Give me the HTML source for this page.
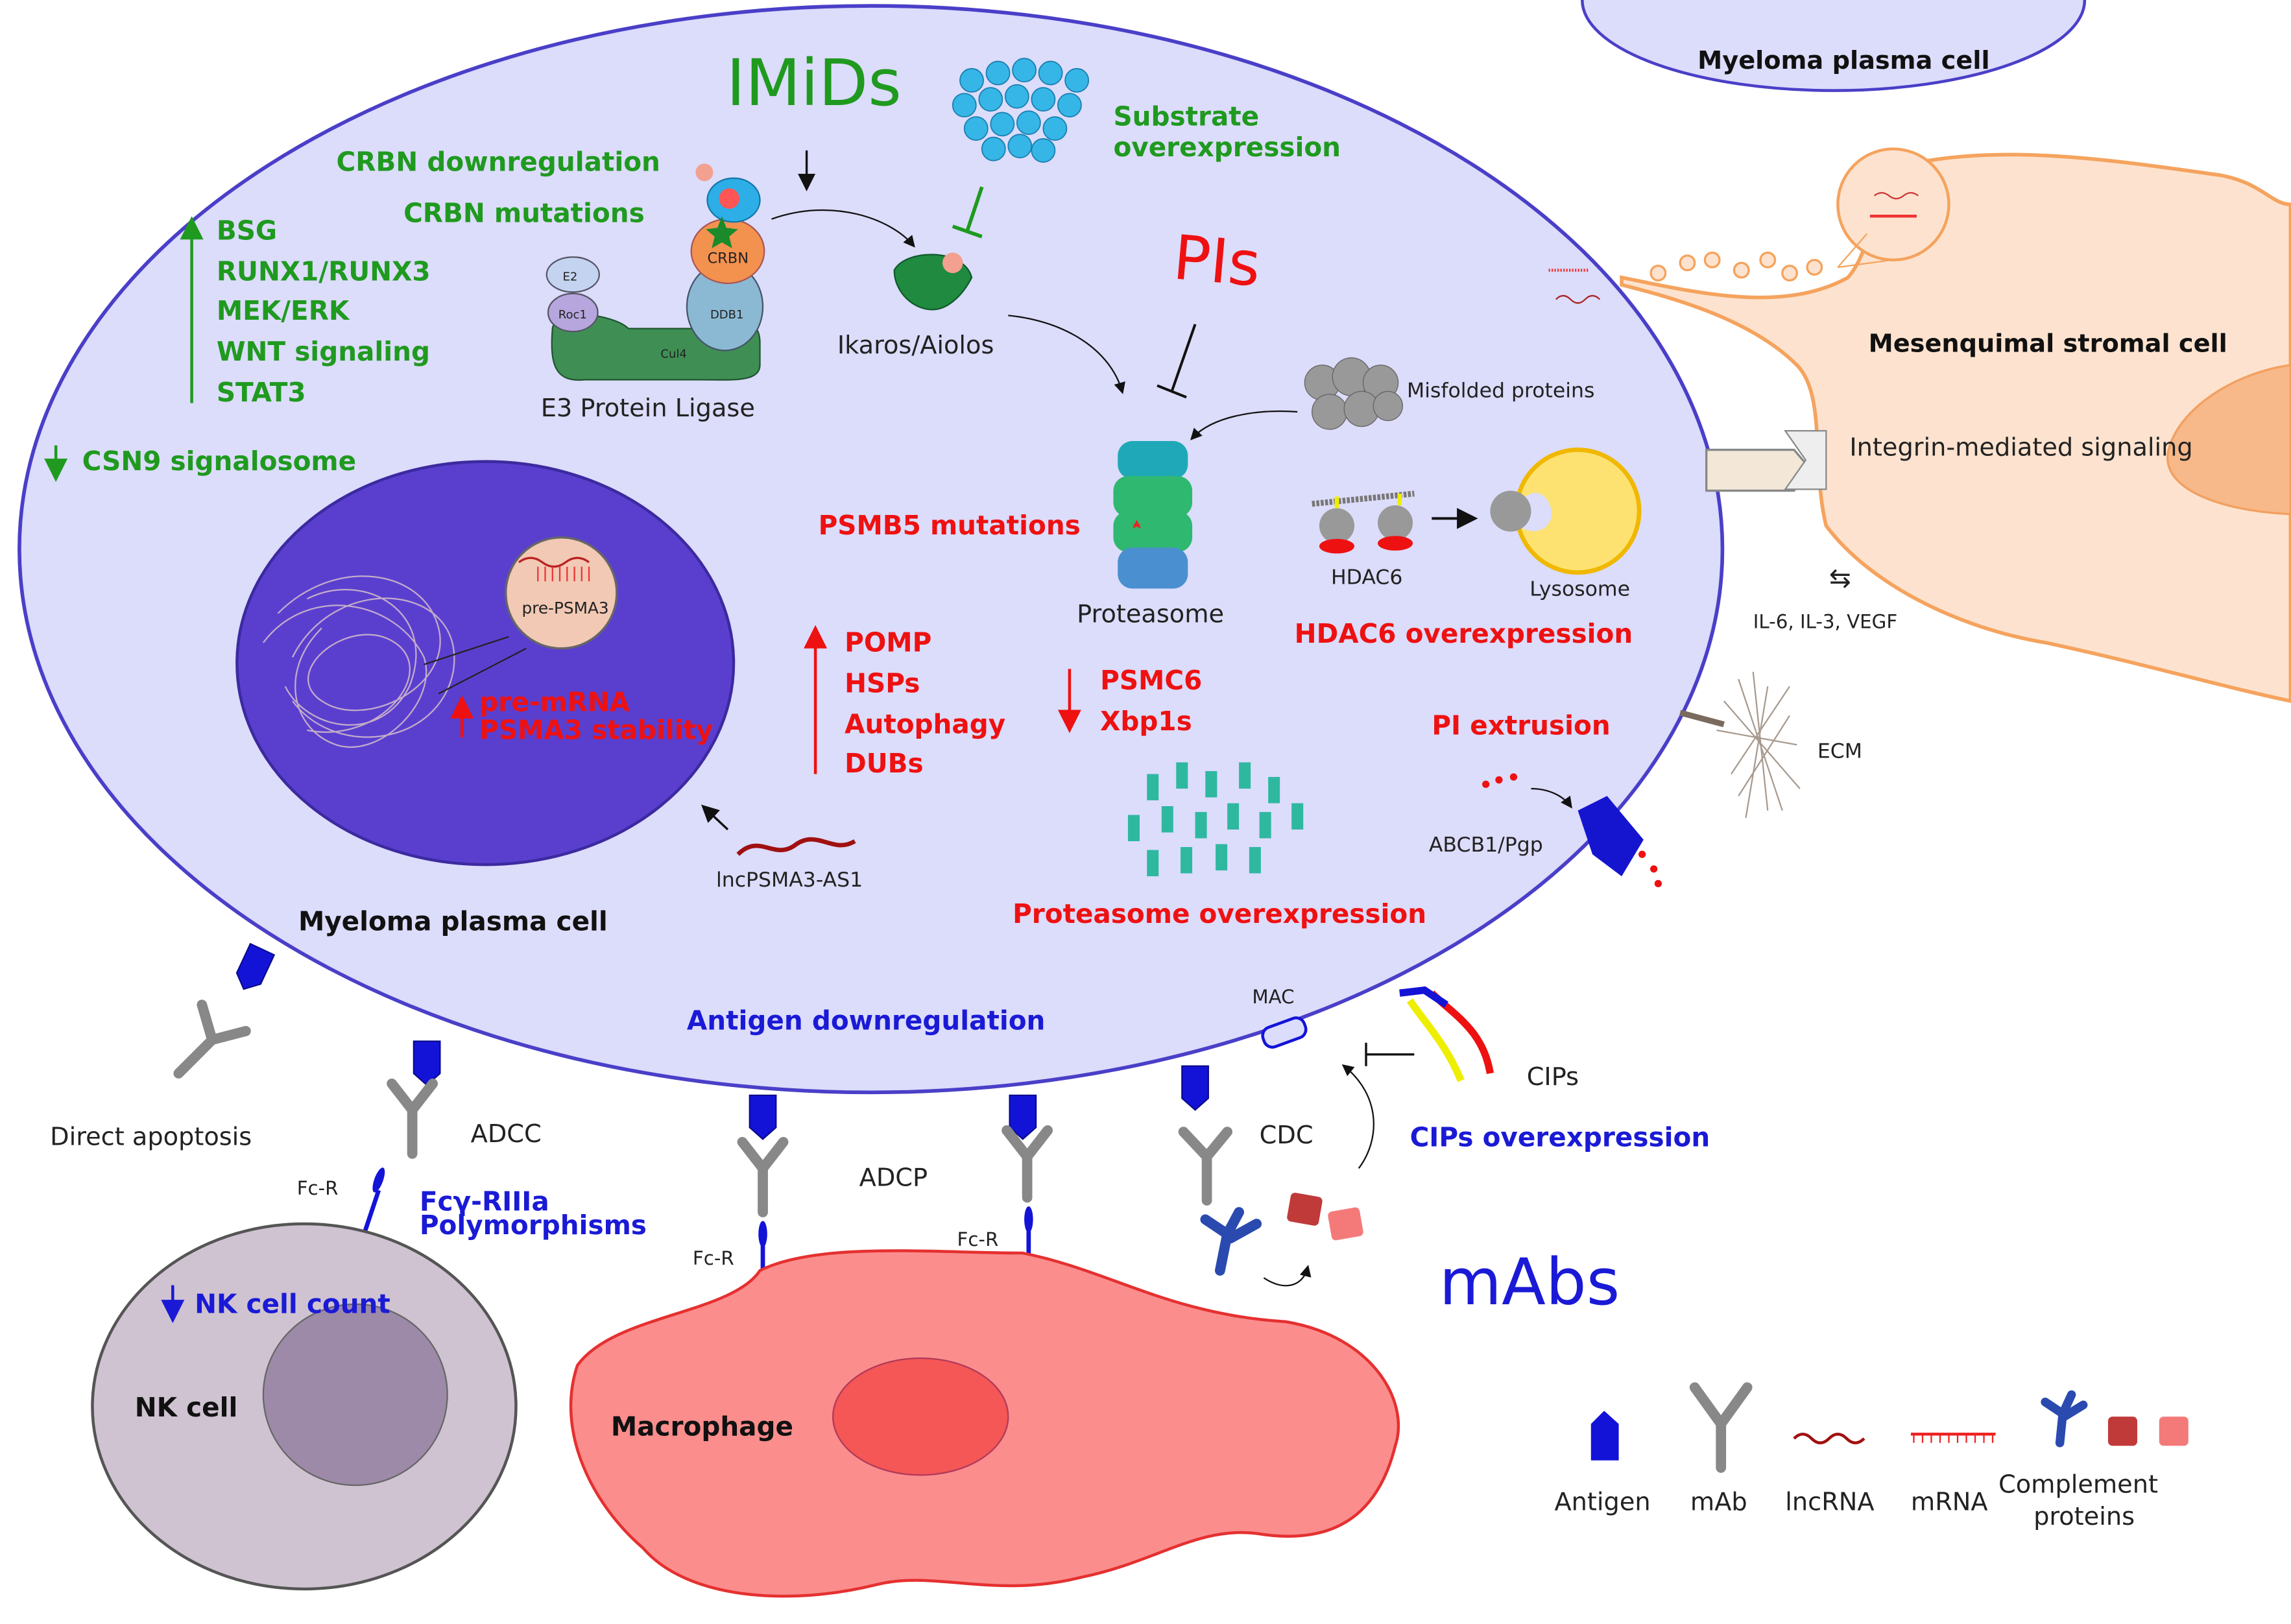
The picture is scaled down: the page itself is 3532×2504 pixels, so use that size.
<!DOCTYPE html>
<html><head><meta charset="utf-8"><style>
html,body{margin:0;padding:0;background:#fff;}
svg{display:block;}
text{font-family:"DejaVu Sans","Liberation Sans",sans-serif;}
.g{fill:#1f9a1f;font-weight:bold;font-size:18px;}
.r{fill:#ee1111;font-weight:bold;font-size:18px;}
.b{fill:#1a1ad6;font-weight:bold;font-size:18px;}
</style></head><body>
<svg width="3532" height="2504" viewBox="0 0 1568 1112" xmlns="http://www.w3.org/2000/svg">
<defs>
<g id="ag"><path d="M-9 0 L-9 -22 L9 -22 L9 0 L0 8 Z" fill="#1313d8" stroke="#0a0a90" stroke-width="1"/></g>
<marker id="ah" markerWidth="8" markerHeight="8" refX="6" refY="4" orient="auto"><path d="M0 0 L8 4 L0 8 Z" fill="#111"/></marker>
<marker id="ahg" markerWidth="8" markerHeight="8" refX="6" refY="4" orient="auto"><path d="M0 0 L8 4 L0 8 Z" fill="#1f9a1f"/></marker>
<marker id="ahr" markerWidth="8" markerHeight="8" refX="6" refY="4" orient="auto"><path d="M0 0 L8 4 L0 8 Z" fill="#e11"/></marker>
<marker id="ahb" markerWidth="8" markerHeight="8" refX="6" refY="4" orient="auto"><path d="M0 0 L8 4 L0 8 Z" fill="#1a1ad6"/></marker>
</defs>
<rect width="1568" height="1112" fill="#fff"/>
<ellipse cx="1255" cy="0" rx="172" ry="62" fill="#dcdcfb" stroke="#4a3fc8" stroke-width="2"/>
<text x="1162" y="47" font-weight="bold" font-size="17" fill="#111">Myeloma plasma cell</text>
<path d="M1110 190 C1160 200 1220 215 1265 190 C1290 160 1270 120 1320 110 C1380 100 1450 110 1520 120 C1548 125 1555 140 1568 140 L1568 480 C1520 470 1470 455 1400 440 C1340 430 1280 400 1250 360 C1240 320 1250 270 1230 250 C1200 220 1150 205 1110 195 Z" fill="#fde3cf" stroke="#f5a35e" stroke-width="2.5"/>
<path d="M1568 250 C1530 255 1490 280 1484 310 C1480 335 1520 350 1568 352 Z" fill="#f7b88a" stroke="#f2a060" stroke-width="1.5"/>
<text x="1279" y="241" font-weight="bold" font-size="17" fill="#111">Mesenquimal stromal cell</text>
<text x="1266" y="312" font-size="17" fill="#222">Integrin-mediated signaling</text>
<circle cx="1296" cy="140" r="38" fill="#fde3cf" stroke="#f5a35e" stroke-width="2"/>
<path d="M1283 134 q5 -4 10 0 t10 0 t10 0" stroke="#c33" fill="none"/><path d="M1280 148 h32" stroke="#e33" stroke-width="2"/>
<path d="M1258 183 L1278 160 M1258 183 L1310 176" stroke="#f5a35e" stroke-width="1"/>
<g fill="#fde3cf" stroke="#f5a35e" stroke-width="1.5"><circle cx="1135" cy="187" r="5"/><circle cx="1155" cy="180" r="5"/><circle cx="1172" cy="178" r="5"/><circle cx="1192" cy="185" r="5"/><circle cx="1210" cy="178" r="5"/><circle cx="1225" cy="187" r="5"/><circle cx="1242" cy="183" r="5"/></g>
<ellipse cx="596" cy="376" rx="583" ry="372" fill="#dcdcfb" stroke="#4a3fc8" stroke-width="2.5"/>
<path d="M1168 308 L1228 308 L1240 322 L1228 336 L1168 336 Z" fill="#f3e8d8" stroke="#888" stroke-width="1.5"/>
<path d="M1222 295 L1250 295 L1250 335 L1222 335 L1236 315 Z" fill="#eee" stroke="#888"/>
<ellipse cx="332" cy="454" rx="170" ry="138" fill="#5a3fcf" stroke="#3c2aa0" stroke-width="2"/>
<g stroke="#d6bfc8" fill="none" stroke-width="1" opacity="0.85">
<path d="M190 420 C230 380 290 390 300 430 C310 470 250 500 220 480 C190 460 240 420 270 440 C300 460 260 510 210 500"/>
<path d="M200 450 C230 390 320 400 310 460 C300 510 230 520 200 480"/>
<path d="M180 440 C210 400 270 410 290 450 C300 480 260 520 230 510 C200 500 190 460 220 430"/>
<path d="M210 410 C250 390 300 420 280 470 C260 510 210 500 195 470"/>
</g>
<circle cx="384" cy="406" r="38" fill="#f2c9b5" stroke="#666" stroke-width="1.5"/>
<path d="M355 385 q8 -6 16 0 t16 0 t16 0" stroke="#b22" fill="none" stroke-width="1.5"/>
<path d="M368 398 v-10 M373 398 v-10 M378 398 v-10 M383 398 v-10 M388 398 v-10 M393 398 v-10 M398 398 v-10 M403 398 v-10" stroke="#e33"/>
<text x="357" y="420" font-size="11" fill="#222">pre-PSMA3</text>
<path d="M290 455 L348 436 M300 475 L360 444" stroke="#222" stroke-width="1"/>
<path d="M316 505 L316 480" stroke="#e11" stroke-width="2" marker-end="url(#ahr)"/>
<text x="328" y="487" class="r">pre-mRNA</text>
<text x="328" y="506" class="r">PSMA3 stability</text>
<text x="204" y="637" font-weight="bold" font-size="18" fill="#111">Myeloma plasma cell</text>
<text x="497" y="72" font-size="44" fill="#1f9a1f">IMiDs</text>
<g fill="#35b6e6" stroke="#1a7fb0" stroke-width="0.8">
<circle cx="665" cy="55" r="8"/><circle cx="683" cy="50" r="8"/><circle cx="701" cy="48" r="8"/><circle cx="719" cy="50" r="8"/><circle cx="737" cy="55" r="8"/>
<circle cx="660" cy="72" r="8"/><circle cx="678" cy="68" r="8"/><circle cx="696" cy="66" r="8"/><circle cx="714" cy="68" r="8"/><circle cx="732" cy="72" r="8"/>
<circle cx="668" cy="88" r="8"/><circle cx="686" cy="85" r="8"/><circle cx="704" cy="84" r="8"/><circle cx="722" cy="88" r="8"/>
<circle cx="680" cy="102" r="8"/><circle cx="698" cy="100" r="8"/><circle cx="714" cy="103" r="8"/>
</g>
<text x="762" y="86" class="g">Substrate</text>
<text x="762" y="107" class="g">overexpression</text>
<path d="M672 128 L662 158 M652 155 L672 162" stroke="#1f9a1f" stroke-width="2.5"/>
<path d="M552 103 L552 128" stroke="#111" stroke-width="1.5" marker-end="url(#ah)"/>
<text x="230" y="117" class="g">CRBN downregulation</text>
<text x="276" y="152" class="g">CRBN mutations</text>
<path d="M131 276 L131 152" stroke="#1f9a1f" stroke-width="2" marker-end="url(#ahg)"/>
<text x="148" y="164" class="g">BSG</text>
<text x="148" y="192" class="g">RUNX1/RUNX3</text>
<text x="148" y="219" class="g">MEK/ERK</text>
<text x="148" y="247" class="g">WNT signaling</text>
<text x="148" y="275" class="g">STAT3</text>
<path d="M38 305 L38 326" stroke="#1f9a1f" stroke-width="2" marker-end="url(#ahg)"/>
<text x="56" y="322" class="g">CSN9 signalosome</text>
<path d="M378 225 C380 210 420 215 430 225 L490 225 C505 225 520 215 520 235 L520 250 C520 262 500 260 480 260 L400 260 C380 262 376 250 378 225 Z" fill="#3f8f55" stroke="#1f5530"/>
<ellipse cx="392" cy="188" rx="18" ry="12" fill="#c4d4f0" stroke="#556"/><text x="385" y="192" font-size="8" fill="#222">E2</text>
<ellipse cx="392" cy="214" rx="17" ry="13" fill="#b6a6dd" stroke="#556"/><text x="382" y="218" font-size="8" fill="#222">Roc1</text>
<ellipse cx="496" cy="210" rx="26" ry="30" fill="#8bb9d4" stroke="#456"/><text x="486" y="218" font-size="8" fill="#222">DDB1</text>
<ellipse cx="498" cy="172" rx="25" ry="22" fill="#f3924f" stroke="#a55"/><text x="484" y="180" font-size="10" fill="#222">CRBN</text>
<ellipse cx="502" cy="137" rx="18" ry="15" fill="#2eaee6" stroke="#17a"/>
<circle cx="499" cy="136" r="7" fill="#f55"/><circle cx="482" cy="118" r="6" fill="#f3a090"/>
<path d="M494 148 l3 8 8 1 -6 5 2 8 -7 -4 -7 4 2 -8 -6 -5 8 -1z" fill="#1a8a2a"/>
<text x="452" y="245" font-size="8" fill="#222">Cul4</text>
<text x="370" y="285" font-size="17" fill="#222">E3 Protein Ligase</text>
<path d="M528 150 C570 135 610 150 625 168" stroke="#111" fill="none" marker-end="url(#ah)"/>
<path d="M612 185 C620 170 660 170 665 190 C660 200 650 212 638 212 C625 212 612 200 612 185 Z" fill="#1f8a40" stroke="#0f5a2a"/>
<circle cx="652" cy="180" r="7" fill="#f3a090"/>
<text x="573" y="242" font-size="17" fill="#222">Ikaros/Aiolos</text>
<path d="M690 216 C730 220 760 240 768 268" stroke="#111" fill="none" marker-end="url(#ah)"/>
<text x="803" y="193" font-size="42" fill="#ee1111" transform="rotate(5 830 180)">PIs</text>
<path d="M818 222 L802 268 M792 264 L812 272" stroke="#111" stroke-width="1.8"/>
<g fill="#999" stroke="#666" stroke-width="0.6">
<circle cx="905" cy="262" r="12"/><circle cx="925" cy="258" r="13"/><circle cx="945" cy="262" r="12"/><circle cx="910" cy="282" r="12"/><circle cx="932" cy="280" r="12"/><circle cx="950" cy="278" r="10"/>
</g>
<text x="963" y="272" font-size="14" fill="#222">Misfolded proteins</text>
<path d="M888 282 C860 280 830 285 816 300" stroke="#111" fill="none" marker-end="url(#ah)"/>
<rect x="765" y="302" width="48" height="26" rx="10" fill="#1fa9b8"/>
<rect x="762" y="326" width="54" height="28" rx="10" fill="#2fb870"/>
<rect x="762" y="350" width="54" height="28" rx="10" fill="#2fb870"/>
<rect x="765" y="375" width="48" height="28" rx="10" fill="#4a8fd0"/>
<path d="M775 362 l3 -6 3 6 -6 -3 6 0z" fill="#e22"/>
<text x="737" y="426" font-size="17" fill="#222">Proteasome</text>
<text x="560" y="366" class="r">PSMB5 mutations</text>
<path d="M898 345 L968 338" stroke="#777" stroke-width="4" stroke-dasharray="2 1"/>
<circle cx="915" cy="360" r="12" fill="#999"/><circle cx="955" cy="358" r="12" fill="#999"/>
<ellipse cx="915" cy="374" rx="12" ry="5" fill="#e11"/><ellipse cx="955" cy="372" rx="12" ry="5" fill="#e11"/>
<path d="M915 348 v-8 M958 346 v-8" stroke="#ee0" stroke-width="3"/>
<path d="M980 355 L1008 355" stroke="#111" stroke-width="1.8" marker-end="url(#ah)"/>
<circle cx="1080" cy="350" r="42" fill="#fde272" stroke="#f0b800" stroke-width="3"/>
<path d="M1040 345 C1050 330 1062 340 1062 352 C1062 362 1050 368 1040 360 Z" fill="#dcdcfb"/>
<circle cx="1034" cy="350" r="14" fill="#999"/>
<text x="911" y="400" font-size="14" fill="#222">HDAC6</text>
<text x="1047" y="408" font-size="14" fill="#222">Lysosome</text>
<text x="886" y="440" class="r">HDAC6 overexpression</text>
<path d="M558 530 L558 432" stroke="#e11" stroke-width="2" marker-end="url(#ahr)"/>
<text x="578" y="446" class="r">POMP</text>
<text x="578" y="474" class="r">HSPs</text>
<text x="578" y="502" class="r">Autophagy</text>
<text x="578" y="529" class="r">DUBs</text>
<path d="M732 458 L732 498" stroke="#e11" stroke-width="2" marker-end="url(#ahr)"/>
<text x="753" y="472" class="r">PSMC6</text>
<text x="753" y="500" class="r">Xbp1s</text>
<text x="980" y="503" class="r">PI extrusion</text>
<g fill="#2fb8a0">
<rect x="785" y="530" width="8" height="18"/><rect x="805" y="522" width="8" height="18"/><rect x="825" y="528" width="8" height="18"/><rect x="848" y="522" width="8" height="18"/><rect x="868" y="532" width="8" height="18"/>
<rect x="772" y="558" width="8" height="18"/><rect x="795" y="552" width="8" height="18"/><rect x="818" y="556" width="8" height="18"/><rect x="840" y="550" width="8" height="18"/><rect x="862" y="556" width="8" height="18"/><rect x="884" y="550" width="8" height="18"/>
<rect x="785" y="582" width="8" height="18"/><rect x="808" y="580" width="8" height="18"/><rect x="832" y="578" width="8" height="18"/><rect x="855" y="580" width="8" height="18"/>
</g>
<text x="693" y="632" class="r">Proteasome overexpression</text>
<path d="M505 585 C520 570 530 590 545 578 C560 568 570 585 585 576" stroke="#a01010" stroke-width="3" fill="none"/>
<text x="490" y="607" font-size="14" fill="#222">lncPSMA3-AS1</text>
<path d="M498 568 L482 553" stroke="#111" stroke-width="1.5" marker-end="url(#ah)"/>
<g fill="#e11"><circle cx="1017" cy="537" r="2.5"/><circle cx="1026" cy="534" r="2.5"/><circle cx="1036" cy="532" r="2.5"/><circle cx="1124" cy="585" r="2.5"/><circle cx="1132" cy="595" r="2.5"/><circle cx="1135" cy="605" r="2.5"/></g>
<path d="M1048 540 C1060 540 1070 545 1075 552" stroke="#111" fill="none" marker-end="url(#ah)"/>
<path d="M1080 555 L1100 545 L1125 575 L1110 600 L1090 585 Z" fill="#1515d0"/>
<text x="978" y="583" font-size="14" fill="#222">ABCB1/Pgp</text>
<g stroke="#a89a8e" stroke-width="1">
<path d="M1190 465 L1220 555 M1200 460 L1210 555 M1180 480 L1232 540 M1175 500 L1230 510 M1210 470 L1195 560 M1185 530 L1225 470 M1190 545 L1225 490"/>
</g>
<path d="M1150 488 L1180 496" stroke="#7a6a5e" stroke-width="4"/>
<text x="1244" y="519" font-size="14" fill="#222">ECM</text>
<text x="1252" y="402" font-size="18" fill="#222">⇆</text>
<text x="1200" y="430" font-size="13" fill="#222">IL-6, IL-3, VEGF</text>
<path d="M1060 185 h28" stroke="#e33" stroke-width="2" stroke-dasharray="1 1"/>
<path d="M1065 205 q5 -5 10 0 t10 0 t10 0" stroke="#a22" fill="none"/>
<!-- antigens & antibodies -->
<use href="#ag" x="170" y="670" transform="rotate(25 170 670)"/>
<use href="#ag" x="292" y="735"/>
<use href="#ag" x="522" y="772"/><use href="#ag" x="700" y="772"/><use href="#ag" x="818" y="752"/>
<g stroke="#888" stroke-width="7" fill="none" stroke-linecap="round">
<path d="M122 735 L145 712 L138 688 M145 712 L168 706"/>
<path d="M282 790 L282 760 L268 742 M282 760 L296 742"/>
<path d="M522 830 L522 800 L508 782 M522 800 L536 782"/>
<path d="M703 820 L703 792 L689 774 M703 792 L717 774"/>
<path d="M826 822 L826 792 L810 775 M826 792 L840 775"/>
</g>
<g fill="#1313d8"><ellipse cx="259" cy="808" rx="3" ry="9" transform="rotate(20 259 808)"/><ellipse cx="522" cy="845" rx="3" ry="9"/><ellipse cx="704" cy="835" rx="3" ry="9"/></g>
<path d="M259 815 L249 845 M522 850 L522 872 M704 842 L704 860" stroke="#1313d8" stroke-width="3"/>
<text x="857" y="687" font-size="13" fill="#222">MAC</text>
<rect x="864" y="700" width="30" height="14" rx="6" fill="#dcdcfb" stroke="#1313d8" stroke-width="2" transform="rotate(-20 879 707)"/>
<path d="M965 685 C975 700 990 715 1000 740" stroke="#ee0" stroke-width="5" fill="none"/>
<path d="M980 680 C995 695 1015 705 1020 735" stroke="#e11" stroke-width="5" fill="none"/>
<path d="M958 680 L975 678 L990 688" stroke="#1313d8" stroke-width="5" fill="none"/>
<path d="M968 722 L935 722 M935 714 L935 730" stroke="#111" stroke-width="1.5"/>
<path d="M930 800 C945 780 945 750 920 730" stroke="#111" fill="none" marker-end="url(#ah)"/>
<text x="1045" y="743" font-size="17" fill="#222">CIPs</text>
<text x="965" y="785" class="b">CIPs overexpression</text>
<text x="470" y="705" class="b">Antigen downregulation</text>
<text x="34" y="784" font-size="17" fill="#222">Direct apoptosis</text>
<text x="322" y="782" font-size="17" fill="#222">ADCC</text>
<text x="588" y="812" font-size="17" fill="#222">ADCP</text>
<text x="862" y="783" font-size="17" fill="#222">CDC</text>
<text x="203" y="818" font-size="13" fill="#222">Fc-R</text>
<text x="474" y="866" font-size="13" fill="#222">Fc-R</text>
<text x="655" y="853" font-size="13" fill="#222">Fc-R</text>
<text x="287" y="829" class="b">Fcγ-RIIIa</text>
<text x="287" y="845" class="b">Polymorphisms</text>
<path d="M835 870 L840 845 L825 835 M840 845 L848 830 M842 848 L860 838" stroke="#2a4ab0" stroke-width="7" fill="none" stroke-linecap="round"/>
<rect x="882" y="818" width="22" height="20" rx="3" fill="#c03a3a" transform="rotate(10 893 828)"/>
<rect x="910" y="828" width="22" height="20" rx="3" fill="#f47a7a" transform="rotate(-10 921 838)"/>
<path d="M865 875 C880 885 892 880 895 868" stroke="#111" fill="none" marker-end="url(#ah)"/>
<text x="985" y="893" font-size="44" fill="#1a1ad6">mAbs</text>
<ellipse cx="208" cy="963" rx="145" ry="125" fill="#cfc3d1" stroke="#555" stroke-width="2"/>
<ellipse cx="243" cy="955" rx="63" ry="62" fill="#9d8aa8" stroke="#666"/>
<path d="M118 880 L118 902" stroke="#1a1ad6" stroke-width="2" marker-end="url(#ahb)"/>
<text x="133" y="899" class="b">NK cell count</text>
<text x="92" y="970" font-weight="bold" font-size="18" fill="#111">NK cell</text>
<path d="M395 935 C420 900 500 900 520 870 C560 850 640 858 700 858 C760 870 800 900 880 905 C940 915 965 960 955 990 C945 1030 920 1060 860 1050 C820 1045 790 1070 740 1080 C680 1095 640 1075 600 1085 C540 1100 470 1095 440 1060 C405 1030 380 980 395 935 Z" fill="#fb8d8d" stroke="#e53030" stroke-width="2"/>
<ellipse cx="630" cy="970" rx="60" ry="40" fill="#f55656" stroke="#b03a5a"/>
<text x="418" y="983" font-weight="bold" font-size="18" fill="#111">Macrophage</text>
<path d="M1089 975 L1108 975 L1108 1000 L1089 1000 Z M1089 975 L1098 966 L1108 975" fill="#1313d8"/>
<path d="M1178 1005 L1178 975 L1160 950 M1178 975 L1196 950" stroke="#888" stroke-width="7" fill="none" stroke-linecap="round"/>
<path d="M1228 985 q6 -6 12 0 t12 0 t12 0 t12 0" stroke="#a01010" stroke-width="2" fill="none"/>
<path d="M1308 982 h58" stroke="#e22" stroke-width="2"/><path d="M1310 982 v6 M1316 982 v6 M1322 982 v6 M1328 982 v6 M1334 982 v6 M1340 982 v6 M1346 982 v6 M1352 982 v6 M1358 982 v6 M1364 982 v6" stroke="#e22"/>
<path d="M1410 988 L1412 968 L1400 960 M1412 968 L1418 955 M1413 970 L1426 962" stroke="#2a4ab0" stroke-width="6" fill="none" stroke-linecap="round"/>
<rect x="1443" y="970" width="20" height="20" rx="3" fill="#c03a3a"/>
<rect x="1478" y="970" width="20" height="20" rx="3" fill="#f47a7a"/>
<text x="1064" y="1034" font-size="17" fill="#222">Antigen</text>
<text x="1157" y="1034" font-size="17" fill="#222">mAb</text>
<text x="1222" y="1034" font-size="17" fill="#222">lncRNA</text>
<text x="1308" y="1034" font-size="17" fill="#222">mRNA</text>
<text x="1368" y="1022" font-size="17" fill="#222">Complement</text>
<text x="1392" y="1044" font-size="17" fill="#222">proteins</text>
</svg>
</body></html>
